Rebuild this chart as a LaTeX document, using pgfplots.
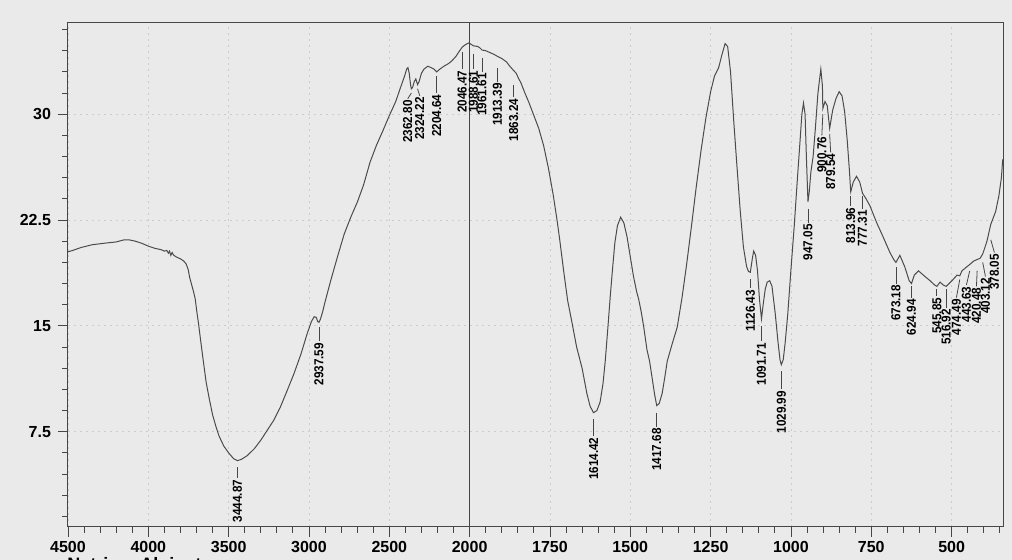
\documentclass[border=0pt]{standalone}
\usepackage{fontspec}
\setmainfont{Liberation Sans}
\usepackage{graphicx}
\usepackage{pgfplots}
\usepackage{pgfplotstable}
\pgfplotsset{compat=1.18}
\definecolor{paper}{RGB}{234,234,234}
\definecolor{ink}{RGB}{70,70,70}
\definecolor{curve}{RGB}{75,75,75}

\pgfplotstableread{
wn T
4500 20.25
4470 20.35
4420 20.55
4350 20.75
4280 20.85
4200 20.95
4150 21.1
4120 21.1
4080 21.0
4040 20.85
4000 20.65
3960 20.5
3920 20.4
3900 20.3
3885 20.35
3875 20.15
3868 20.3
3860 20.0
3852 20.2
3845 20.05
3835 19.95
3820 19.85
3800 19.75
3780 19.6
3765 19.4
3752 19.0
3742 18.4
3730 17.9
3718 17.4
3708 16.9
3698 16.0
3688 15.2
3677 14.2
3660 12.7
3640 11.0
3620 9.8
3600 8.7
3580 7.9
3560 7.2
3531 6.5
3500 6.0
3470 5.6
3444.87 5.45
3420 5.55
3385 5.8
3340 6.3
3300 6.9
3260 7.6
3220 8.3
3180 9.2
3140 10.3
3094 11.6
3050 13.0
3010 14.5
2985 15.3
2968 15.65
2955 15.6
2945 15.3
2937.59 15.25
2928 15.5
2915 16.0
2900 16.7
2865 18.2
2820 20.0
2781 21.5
2740 22.7
2698 23.8
2660 25.0
2620 26.6
2580 27.8
2541 28.8
2500 29.9
2460 30.9
2430 31.9
2405 32.7
2392 33.2
2384 33.3
2376 32.9
2368 32.1
2362.80 31.8
2355 31.9
2345 32.3
2335 32.5
2324.22 32.1
2315 32.3
2300 32.9
2284 33.2
2260 33.4
2240 33.3
2222 33.2
2204.64 33.0
2185 33.2
2160 33.4
2130 33.6
2109 33.8
2085 34.1
2068 34.4
2046.47 34.75
2030 34.9
2015 35.0
2005 35.05
1995 34.95
1988.61 34.85
1975 34.8
1968 34.7
1961.61 34.55
1950 34.5
1935 34.35
1925 34.25
1913.39 34.1
1900 33.95
1885 33.7
1875 33.4
1863.24 33.1
1855 32.9
1849 32.6
1840 32.2
1828 31.5
1815 30.8
1800 29.9
1785 29.0
1770 27.8
1755 26.2
1740 24.3
1728 22.5
1719 21.0
1708 19.0
1695 16.8
1682 15.3
1667 13.5
1650 12.0
1635 10.2
1625 9.3
1614.42 8.85
1604 9.0
1594 9.6
1585 10.9
1578 12.5
1570 14.8
1562 17.2
1555 19.1
1548 20.9
1540 22.1
1530 22.7
1520 22.3
1510 21.3
1500 19.9
1490 18.5
1480 17.4
1474 16.9
1466 16.0
1458 14.9
1448 13.3
1440 12.5
1432 11.3
1424 10.1
1417.68 9.35
1410 9.5
1401 10.2
1393 11.3
1385 12.5
1370 13.7
1354 14.9
1339 17.0
1325 19.3
1310 22.0
1295 24.8
1280 27.4
1265 29.7
1250 31.6
1238 32.7
1225 33.3
1215 34.2
1205 35.0
1197 34.8
1188 33.0
1178 29.5
1168 26.3
1158 23.2
1148 20.6
1138 19.2
1132 18.85
1126.43 18.8
1120 19.8
1116 20.3
1110 20.0
1104 18.9
1098 16.9
1091.71 15.5
1086 16.6
1080 17.6
1074 18.1
1066 18.2
1059 17.8
1049 15.9
1040 13.8
1034 12.6
1029.99 12.25
1024 12.6
1018 13.8
1010 15.8
1000 19.0
990 22.0
980 25.4
972 28.0
966 30.0
961 30.8
956 30.0
952 27.0
947.05 23.8
943 24.5
938 25.9
931 27.0
924 29.0
916 31.5
907 33.2
902 32.0
900.76 30.4
894 30.9
887 30.6
879.54 29.0
870 30.3
860 31.1
850 31.6
841 31.3
833 30.2
825 28.2
818 26.0
813.96 24.5
806 25.2
796 25.6
786 25.2
777.31 24.4
766 24.0
754 23.5
733 22.3
713 21.3
692 20.2
680 19.7
673.18 19.5
661 20.0
646 19.2
632 18.2
624.94 18.0
616 18.6
603 18.9
588 18.6
567 18.2
553 17.9
545.85 17.8
536 18.1
526 17.9
516.92 17.8
499 18.2
483 18.6
474.49 18.55
468 18.9
452 19.2
443.63 19.35
431 19.6
420.48 19.7
411 19.8
403.12 20.1
390 21.0
378.05 22.2
363 23.1
353 24.2
345 25.5
341 26.8
}\spectrum

% peak label: [xshift]{wavenumber}{leader top}{text top}{label}
\newcommand\pk[5][0pt]{%
  \draw[ink, line width=0.4pt] (axis cs:#2,#3) -- ([xshift=#1]axis cs:#2,#4)
    node[anchor=east, rotate=90, inner sep=0.6pt, text=black,
         font=\bfseries\fontsize{6.5}{7}\selectfont]{\scalebox{0.9}[1]{#5}};}

\begin{document}
\begin{tikzpicture}[x=1pt,y=1pt]
\path[use as bounding box, fill=paper] (-34,-16.5) rectangle (472,263.5);
\begin{axis}[
  at={(0,0)}, anchor=south west, scale only axis,
  width=467.5pt, height=252.25pt,
  xmin=4500, xmax=340, ymin=0.75, ymax=36.5,
  x coord trafo/.code={\pgfmathparse{#1>=2000 ? 4500-#1 : 6500-2*#1}},
  x coord inv trafo/.code={\pgfmathparse{#1<=2500 ? 4500-#1 : (6500-#1)/2}},
  xtick={4500,4000,3500,3000,2500,2000,1750,1500,1250,1000,750,500},
  xticklabels={4500,4000,3500,3000,2500,2000,1750,1500,1250,1000,750,500},
  minor xtick={4400,4300,4200,4100,3900,3800,3700,3600,3400,3300,3200,3100,2900,2800,2700,2600,2400,2300,2200,2100,1950,1900,1850,1800,1700,1650,1600,1550,1450,1400,1350,1300,1200,1150,1100,1050,950,900,850,800,700,650,600,550,450,400,350},
  ytick={7.5,15,22.5,30}, yticklabels={7.5,15,22.5,30},
  minor ytick={1.5,3,4.5,6,9,10.5,12,13.5,16.5,18,19.5,21,24,25.5,27,28.5,31.5,33,34.5,36},
  tick align=outside, xtick pos=bottom, ytick pos=left,
  major tick length=5pt, minor tick length=2.8pt,
  every tick/.style={ink, line width=0.45pt},
  tick label style={font=\bfseries\fontsize{8}{9.6}\selectfont, text=black},
  xticklabel style={yshift=1.5pt},
  axis line style={ink, line width=0.5pt},
  grid=major,
  major grid style={gray!40, dash pattern=on 1.2pt off 1.8pt, line width=0.4pt},
  minor grid style={draw=none},
]
\addplot[curve, line width=0.5pt] table[x=wn, y=T] {\spectrum};
\draw[ink, line width=0.5pt] (axis cs:2000,0.75) -- (axis cs:2000,36.5);

\pk{3444.87}{5.0}{4.2}{3444.87}
\pk{2937.59}{14.9}{13.9}{2937.59}
\pk[-1.8pt]{2362.80}{31.5}{31.1}{2362.80}
\pk[1.1pt]{2324.22}{31.8}{31.3}{2324.22}
\pk{2204.64}{32.7}{31.5}{2204.64}
\pk{2046.47}{34.4}{33.2}{2046.47}
\pk{1988.61}{34.3}{33.2}{1988.61}
\pk{1961.61}{34.0}{33.0}{1961.61}
\pk{1913.39}{33.3}{32.3}{1913.39}
\pk{1863.24}{32.1}{31.2}{1863.24}
\pk{1614.42}{8.4}{7.2}{1614.42}
\pk{1417.68}{8.85}{7.85}{1417.68}
\pk{1126.43}{18.3}{17.65}{1126.43}
\pk{1091.71}{15.0}{13.9}{1091.71}
\pk{1029.99}{11.8}{10.5}{1029.99}
\pk{947.05}{23.3}{22.3}{947.05}
\pk[-0.5pt]{900.76}{30.0}{28.5}{900.76}
\pk[0.5pt]{879.54}{28.6}{27.3}{879.54}
\pk{813.96}{24.2}{23.5}{813.96}
\pk{777.31}{24.2}{23.3}{777.31}
\pk{673.18}{19.15}{18.0}{673.18}
\pk{624.94}{17.8}{17.0}{624.94}
\pk{545.85}{17.6}{17.1}{545.85}
\pk{516.92}{17.6}{16.3}{516.92}
\pk[-1.7pt]{474.49}{18.3}{17.0}{474.49}
\pk[-1.65pt]{443.63}{18.9}{17.9}{443.63}
\pk[-0.35pt]{420.48}{18.9}{17.8}{420.48}
\pk[1.35pt]{403.12}{19.5}{18.5}{403.12}
\pk[1.8pt]{378.05}{21.1}{20.2}{378.05}

\node[font=\bfseries\fontsize{8}{9.6}\selectfont, text=black, xshift=-14pt] at (rel axis cs:0,0.713) {\%T};
\end{axis}
\node[anchor=north west, inner sep=0, font=\bfseries\fontsize{9}{10}\selectfont, text=black] at (-0.5,-15.2) {Natrium Alginat};
\end{tikzpicture}
\end{document}
